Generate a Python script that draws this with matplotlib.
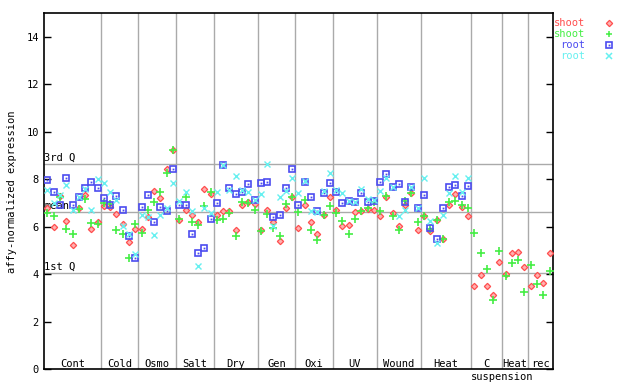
import numpy as np
import matplotlib
matplotlib.use("Agg")
import matplotlib.pyplot as plt

plt.rcParams['font.family'] = 'DejaVu Sans Mono'

# groups of samples along the x axis (name, number of samples)
groups = ["Cont", "Cold", "Osmo", "Salt", "Dry", "Gen", "Oxi", "UV", "Wound", "Heat", "C", "Heat", "rec"]
group_sizes = [9, 6, 6, 6, 7, 6, 6, 7, 7, 8, 5, 4, 4]

# summary lines
q3_value = 8.67
mean_value = 6.62
q1_value = 4.06

nan = np.nan
shoot_red = [6.78, 6.00, 7.31, 6.24, 5.22, 6.80, 7.34, 5.93, 6.21,
             6.90, 6.85, 6.56, 6.14, 5.37, 5.90,
             5.93, 6.42, 7.52, 7.20, 8.42, 9.26,
             6.28, 6.73, 6.52, 6.21, 7.58, 7.37,
             6.48, 6.66, 6.66, 5.89, 6.92, 7.03, 6.96,
             5.89, 6.73, 6.19, 5.40, 6.80, 7.27,
             5.97, 6.94, 6.19, 5.68, 6.48, 7.27,
             6.73, 6.02, 6.06, 6.62, 6.66, 6.75, 6.73,
             6.44, 7.27, 6.59, 6.03, 6.92, 7.41, 5.89,
             6.44, 5.82, 6.28, 5.50, 6.94, 7.38, 6.82, 6.44,
             3.53, 3.99, 3.49, 3.12, 4.54,
             4.00, 4.88, 4.96, 4.33,
             3.53, 3.99, 3.65, 4.92]
shoot_green = [6.57, 6.44, 7.24, 5.93, 5.72, 6.75, 7.17, 6.17, 6.12,
               7.02, 6.95, 5.89, 5.69, 4.71, 6.12,
               5.75, 6.73, 7.03, 7.45, 8.29, 9.26,
               6.34, 7.24, 6.20, 6.06, 6.90, 7.48,
               6.31, 6.35, 6.57, 5.62, 7.03, 6.99, 6.73,
               5.82, 6.53, 5.97, 5.62, 6.96, 7.27,
               6.61, 7.13, 5.89, 5.44, 6.48, 6.87,
               6.59, 6.24, 5.72, 6.35, 6.69, 6.78, 7.06,
               6.66, 7.30, 6.44, 5.86, 7.08, 7.44, 6.19,
               6.44, 5.90, 6.28, 5.50, 7.03, 7.10, 6.92, 6.78,
               5.76, 4.88, 4.24, 2.94, 5.00,
               3.92, 4.46, 4.62, 3.27,
               4.41, 3.61, 3.15, 4.16]
root_blue = [7.97, 7.45, 6.94, 8.04, 6.94, 7.24, 7.62, 7.91, 7.62,
             7.20, 6.94, 7.30, 6.73, 5.61, 4.71,
             6.82, 7.34, 6.19, 6.82, 6.66, 8.42,
             6.94, 6.94, 5.68, 4.88, 5.09, 6.35,
             6.99, 8.60, 7.62, 7.37, 7.45, 7.79, 7.13,
             7.83, 7.91, 6.40, 6.48, 7.62, 8.46,
             6.94, 7.90, 7.28, 6.69, 7.44, 7.83,
             7.45, 6.99, 7.08, 7.03, 7.41, 7.03, 7.10,
             7.91, 8.21, 7.69, 7.79, 7.03, 7.66, 6.78,
             7.34, 5.97, 5.47, 6.78, 7.66, 7.76, 7.30, 7.72,
             nan, nan, nan, nan, nan, nan, nan, nan, nan, nan, nan, nan, nan]
root_cyan = [7.55, 7.02, 7.35, 7.75, 6.71, 7.24, 7.60, 6.73, 8.00,
             7.83, 7.45, 7.13, 6.03, 5.68, 4.85,
             6.48, 6.42, 5.65, 6.48, 6.80, 7.83,
             7.10, 7.45, 6.66, 4.37, 6.78, 6.59,
             7.48, 8.60, 7.55, 8.13, 7.55, 7.48, 7.15,
             7.38, 8.65, 6.03, 7.27, 7.52, 8.08,
             7.41, 7.95, 6.66, 6.61, 7.52, 8.25,
             7.55, 7.41, 7.10, 7.05, 7.61, 7.16, 7.13,
             7.52, 8.08, 7.69, 6.44, 6.71, 7.66, 6.80,
             8.08, 6.24, 5.34, 6.48, 7.44, 8.14, 7.48, 8.04,
             nan, nan, nan, nan, nan, nan, nan, nan, nan, nan, nan, nan, nan]

RED = '#ff4d4d'
GREEN = '#44ee44'
BLUE = '#4c4cf0'
CYAN = '#66f0f0'
GRID = '#aaaaaa'

n = len(shoot_red)
x = np.arange(n)

fig = plt.figure(figsize=(6.4, 3.84), dpi=100)
ax = fig.add_axes([0.0692, 0.0383, 0.7944, 0.9271])
ax.set_xlim(-0.5, n - 0.5)
ax.set_ylim(0, 15)

# group separators and labels
edges = np.cumsum(group_sizes)
starts = edges - np.array(group_sizes)
for e in edges[:-1]:
    ax.axvline(e - 0.5, color=GRID, lw=1, zorder=1)
for name, s, size in zip(groups, starts, group_sizes):
    ax.text(s + (size - 1) / 2, 0.22, name, ha='center', va='center', fontsize=7.5)
ax.text(edges[10] - 0.5, -0.33, "suspension", ha='center', va='center', fontsize=7.5, clip_on=False)

# quartile / mean lines
for val, lab in [(q3_value, "3rd Q"), (mean_value, "mean"), (q1_value, "1st Q")]:
    ax.axhline(val, color=GRID, lw=1, zorder=1)
    ax.text(-0.5, val + 0.05, lab, ha='left', va='bottom', fontsize=7.5, zorder=2)

# points
ax.plot(x, shoot_red, ls='none', marker='D', ms=3.2, mfc='#ffb0b0', mec=RED, mew=0.9, zorder=3)
ax.plot(x, shoot_green, ls='none', marker='+', ms=6, mec=GREEN, mew=1.2, zorder=4)
ax.plot(x, root_blue, ls='none', marker='s', ms=4.8, mfc='none', mec=BLUE, mew=1.2, zorder=5)
ax.plot(x, root_blue, ls='none', marker='s', ms=1.3, mfc=BLUE, mec=BLUE, mew=0, zorder=5)
ax.plot(x, root_cyan, ls='none', marker='x', ms=4.5, mec=CYAN, mew=1.0, zorder=6)

ax.set_xticks([])
ax.set_yticks(np.arange(0, 15, 2))
ax.tick_params(axis='y', direction='in', length=5, width=1, labelsize=7.5, right=True, pad=4)
for sp in ax.spines.values():
    sp.set_linewidth(1.2)

fig.text(0.019, 0.5, "affy-normalized expression", rotation=90, ha='center', va='center', fontsize=7.5)

# legend
leg_items = [("shoot", RED, 'D'), ("shoot", GREEN, '+'), ("root", BLUE, 's'), ("root", CYAN, 'x')]
for i, (lab, col, mk) in enumerate(leg_items):
    yy = 1 - (23 + 11 * i) / 384
    fig.text(585 / 640, yy, lab, color=col, ha='right', va='center', fontsize=7.5)
    kw = dict(ls='none', marker=mk, transform=fig.transFigure, clip_on=False)
    if mk == 'D':
        ax.plot([609 / 640], [yy], ms=3.2, mfc='#ffb0b0', mec=col, mew=0.9, **kw)
    elif mk == 's':
        ax.plot([609 / 640], [yy], ms=4.8, mfc='none', mec=col, mew=1.2, **kw)
        ax.plot([609 / 640], [yy], ms=1.3, mfc=col, mec=col, mew=0, **kw)
    else:
        ax.plot([609 / 640], [yy], ms=5 if mk == '+' else 4.5, mec=col, mew=1.1, **kw)

fig.savefig("out.png", dpi=100)
